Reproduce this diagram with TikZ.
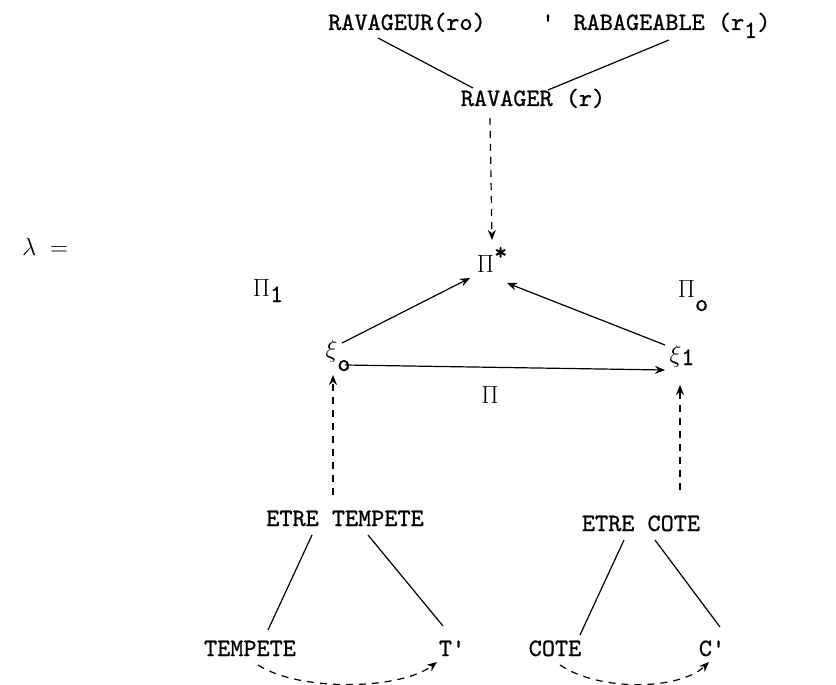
\documentclass[tikz,border=0pt]{standalone}
\usepackage{fontspec}
\newfontfamily\twfont{lmmono10-regular.otf}[FakeBold=0.8]
\usetikzlibrary{arrows.meta}
\newcommand{\lowr}[2]{\raisebox{-#1pt}{#2}}
\begin{document}
\begin{tikzpicture}[x=1pt,y=-1pt,
  txt/.style={font=\fontsize{25}{25}\selectfont\twfont, inner sep=0pt, anchor=base},
  conn/.style={line width=1.2pt},
  arr/.style={line width=1.2pt, -{Stealth[length=10pt,width=8pt]}},
  darr/.style={line width=1.2pt, dash pattern=on 7pt off 6pt, -{Stealth[length=10pt,width=8pt]}}]
\useasboundingbox (0,0) rectangle (836,685);
\fill[white] (0,0) rectangle (836,685);
% nodes
\node[txt] (rvgr) at (407,30) {RAVAGEUR(ro)};
\node[txt] (tick) at (548,30) {'};
\node[txt] (rab) at (672,30) {RABAGEABLE (r\lowr{8}{1})};
\node[txt] (rav) at (533,106) {RAVAGER (r)};
\node[txt] (pistar) at (492,272) {$\Pi$\raisebox{12pt}{*}};
\node[txt] (lam) at (45,255) {$\lambda\; =$};
\node[txt] (pi1) at (268,296) {$\Pi$\lowr{6}{1}};
\node[txt] (pi0) at (693,297) {$\Pi$\lowr{14}{o}};
\node[txt] (xi0) at (338,357) {$\xi$\lowr{14}{o}};
\node[txt] (xi1) at (682,362) {$\xi$\lowr{3}{1}};
\node[txt] (pi) at (490,403) {$\Pi$};
\node[txt] (et) at (345,526) {ETRE TEMPETE};
\node[txt] (ec) at (641,531) {ETRE COTE};
\node[txt] (tp) at (250,656) {TEMPETE};
\node[txt] (tq) at (452,656) {T'};
\node[txt] (co) at (555,656) {COTE};
\node[txt] (cq) at (712,656) {C'};
% connectors
\draw[conn] ([shift={(-29,8)}]rvgr.base) -- ([shift={(-60,-18)}]rav.base);
\draw[conn] ([shift={(-3,10)}]rab.base) -- ([shift={(15,-16)}]rav.base);
\draw[darr] ([shift={(-43,12)}]rav.base) -- ([shift={(0,-32)}]pistar.base);
\draw[arr] ([shift={(4,-14)}]xi0.base) -- ([shift={(-22,6)}]pistar.base);
\draw[arr] ([shift={(-17,-17)}]xi1.base) -- ([shift={(15,11)}]pistar.base);
\draw[arr] ([shift={(7,8)}]xi0.base) -- ([shift={(-17,8)}]xi1.base);
\draw[darr] ([shift={(-12,-31)}]et.base) -- ([shift={(-5,18)}]xi0.base);
\draw[darr] ([shift={(39,-41)}]ec.base) -- ([shift={(-2,23)}]xi1.base);
\draw[conn] ([shift={(-33,9)}]et.base) -- ([shift={(18,-26)}]tp.base);
\draw[conn] ([shift={(23,9)}]et.base) -- ([shift={(-9,-30)}]tq.base);
\draw[conn] ([shift={(-17,9)}]ec.base) -- ([shift={(25,-21)}]co.base);
\draw[conn] ([shift={(14,9)}]ec.base) -- ([shift={(8,-29)}]cq.base);
\draw[darr] ([shift={(8,9)}]tp.base) .. controls (300,692) and (400,690) .. ([shift={(-15,6)}]tq.base);
\draw[darr] ([shift={(5,9)}]co.base) .. controls (600,692) and (680,690) .. ([shift={(-3,6)}]cq.base);
\end{tikzpicture}
\end{document}
